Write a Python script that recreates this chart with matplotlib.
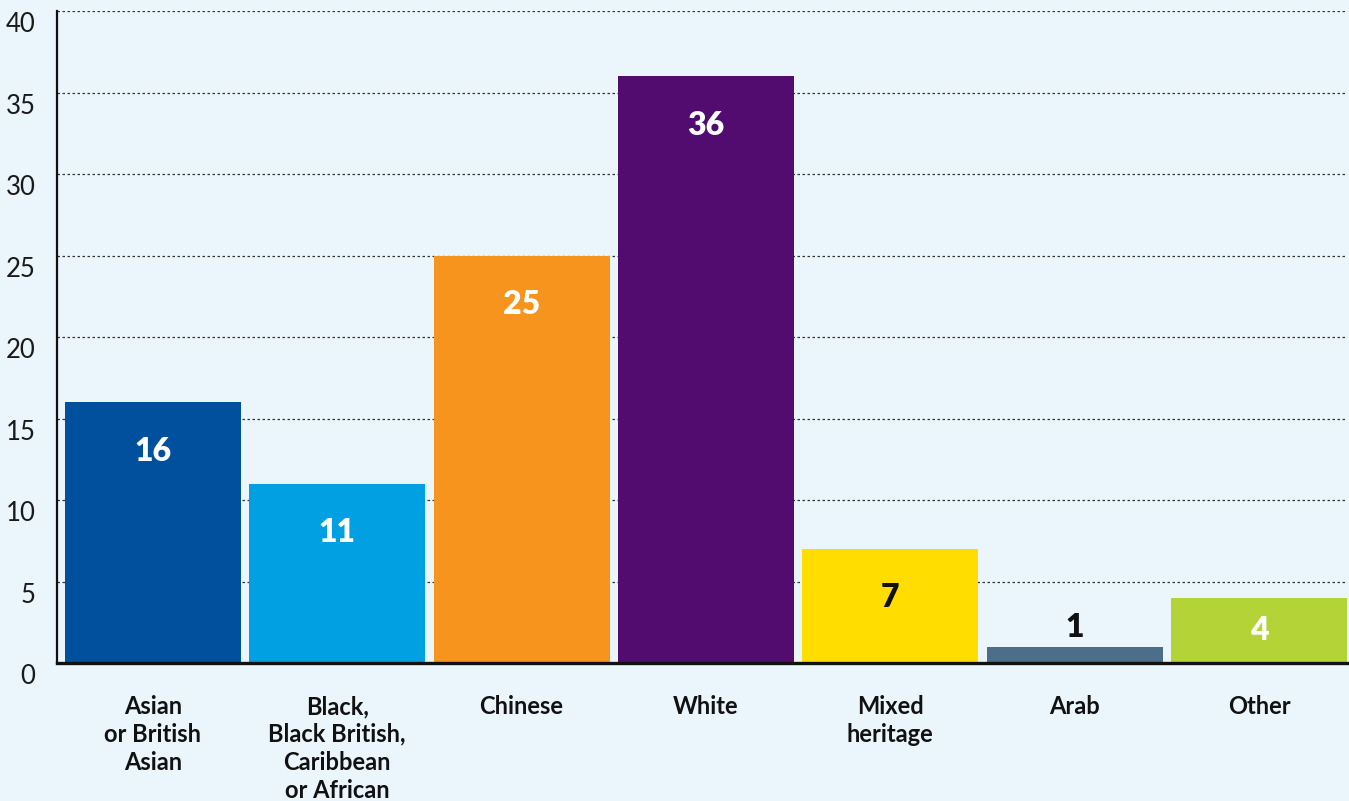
import matplotlib
matplotlib.use("Agg")
import matplotlib.pyplot as plt
from matplotlib.transforms import ScaledTranslation

# Share of respondents by ethnic group (%)
categories = [
    "Asian\nor British\nAsian",
    "Black,\nBlack British,\nCaribbean\nor African",
    "Chinese",
    "White",
    "Mixed\nheritage",
    "Arab",
    "Other",
]
values = [16, 11, 25, 36, 7, 1, 4]
bar_colors = ["#00509E", "#00A0E2", "#F7941E", "#520C6F", "#FFDD00", "#4C6E89", "#B4D336"]
label_colors = ["white", "white", "white", "white", "#111111", "#111111", "white"]
y_ticks = [0, 5, 10, 15, 20, 25, 30, 35, 40]

plt.rcParams["font.family"] = ["Lato", "DejaVu Sans"]
BG = "#EBF6FC"

fig = plt.figure(figsize=(13.49, 8.01), dpi=100, facecolor=BG)
W, H = 1349, 801
ax = fig.add_axes([57 / W, (H - 663) / H, (1347 - 57) / W, 652 / H])
ax.set_facecolor(BG)

x = list(range(len(categories)))
ax.bar(x, values, width=0.955, color=bar_colors, zorder=2)

ax.set_xlim(-0.52, len(categories) - 1 + 0.4775)
ax.set_ylim(0, 40)
ax.set_yticks(y_ticks)
ax.set_yticklabels([str(t) for t in y_ticks], fontsize=18.5, color="#1a1a1a")
ax.tick_params(axis="y", length=0, pad=15.5)
for lab in ax.get_yticklabels():
    lab.set_transform(lab.get_transform() + ScaledTranslation(0, -8 / 72, fig.dpi_scale_trans))

ax.set_xticks(x)
ax.set_xticklabels(categories, fontsize=17, fontweight="bold", color="#111111",
                   linespacing=1.26)
ax.tick_params(axis="x", length=0, pad=23)

ax.grid(axis="y", linestyle=(0, (2, 2)), color="#333333", linewidth=0.9, zorder=0)
ax.set_axisbelow(True)

for side in ("top", "right"):
    ax.spines[side].set_visible(False)
ax.spines["left"].set_linewidth(1.6)
ax.spines["left"].set_color("#111111")
ax.spines["bottom"].set_linewidth(2.4)
ax.spines["bottom"].set_color("#111111")
ax.spines["bottom"].set_zorder(3)

# Value labels: inside near the top, centred for short bars, above tiny bars
for xi, v, c in zip(x, values, label_colors):
    if v < 2:
        y = v + 1.2
    elif v < 6:
        y = v / 2
    else:
        y = v - 3.0
    ax.text(xi, y, str(v), ha="center", va="center", fontsize=23, fontweight="heavy",
            color=c, zorder=4)

fig.savefig("out.png", dpi=100, facecolor=BG)
